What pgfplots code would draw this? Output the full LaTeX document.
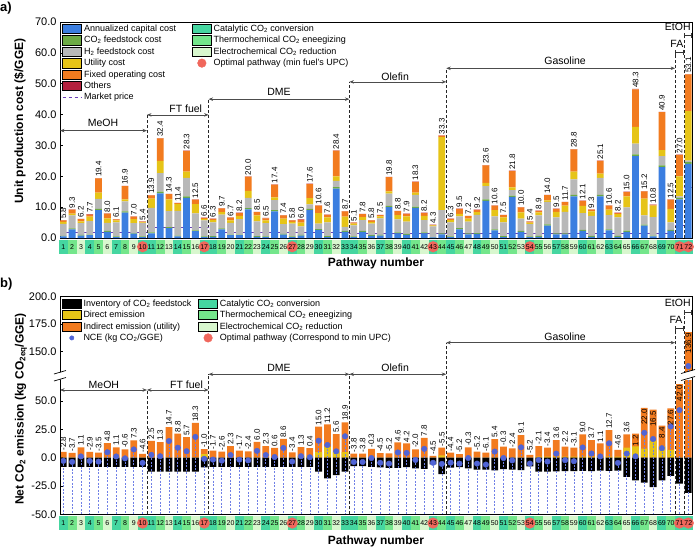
\documentclass[border=0pt]{standalone}
\usepackage{pgfplots}
\pgfplotsset{compat=1.18}
\usepackage{pgfplotstable}
\usepackage{fontspec}
\setmainfont{Liberation Sans}
\usetikzlibrary{arrows.meta}

\definecolor{capblue}{HTML}{3B7EE0}
\definecolor{co2green}{HTML}{6DAA45}
\definecolor{h2gray}{HTML}{B8B8B8}
\definecolor{utilyel}{HTML}{E6C417}
\definecolor{fixorg}{HTML}{F27B1F}
\definecolor{othred}{HTML}{B3203D}
\definecolor{mktpur}{HTML}{6B3FB8}
\definecolor{pwc}{HTML}{45D6A0}
\definecolor{pwt}{HTML}{74E68B}
\definecolor{pwe}{HTML}{D8F7CE}
\definecolor{optred}{HTML}{F0675C}
\definecolor{nceblue}{HTML}{5064D6}
\definecolor{dropblue}{HTML}{7080E6}

\pgfplotsset{
  rectleg/.style={legend image code/.code={\fill[##1] (0pt,-4.6pt) rectangle (19pt,4.6pt);}},
  dotleg/.style={legend image code/.code={\draw[##1] plot coordinates {(9.5pt,0pt)};}},
  lineleg/.style={legend image code/.code={\draw[##1] (0pt,0pt) -- (19pt,0pt);}},
  labelfmt/.style={nodes near coords={\pgfmathprintnumber[fixed,fixed zerofill,precision=1,assume math mode=true]{\pgfplotspointmeta}}},
  ytickfmt/.style={yticklabel style={font=\fontsize{11}{12}\selectfont, /pgf/number format/.cd, fixed, fixed zerofill, precision=1, assume math mode=true}},
}
\tikzset{
  grparr/.style={{Stealth[length=4.5pt,width=3.5pt]}-{Stealth[length=4.5pt,width=3.5pt]}, line width=0.6pt, black!70},
  grpbar/.style={{Bar[width=5pt]}-{Bar[width=5pt]}, line width=1pt, black!80},
  grpdash/.style={dash pattern=on 3pt off 2pt, line width=0.8pt, black!85},
  grplab/.style={font=\fontsize{10.5}{11}\selectfont, inner sep=1pt},
}
\newcommand\pwfont{\fontsize{7}{7.5}\selectfont}
\newcommand\pwrow[1]{%
  \foreach \i/\c/\s in {1/c/1,2/t/1,3/e/1,4/c/1,5/t/1,6/e/1,7/c/1,8/t/1,9/e/1,10/c/0,11/c/1,12/t/1,13/e/1,14/c/1,15/t/1,16/e/1,17/c/0,18/c/1,19/t/1,20/e/1,21/c/1,22/t/1,23/e/1,24/c/1,25/t/1,26/e/1,27/c/0,28/t/1,29/e/1,30/c/1,31/t/1,32/e/1,33/c/1,34/c/1,35/t/1,36/e/1,37/c/1,38/t/1,39/e/1,40/c/1,41/t/1,42/e/1,43/c/0,44/t/1,45/c/1,46/t/1,47/e/1,48/c/1,49/t/1,50/e/1,51/c/1,52/t/1,53/e/1,54/c/0,55/t/1,56/e/1,57/c/1,58/t/1,59/e/1,60/c/1,61/t/1,62/e/1,63/c/1,64/t/1,65/e/1,66/c/1,67/t/1,68/e/1,69/c/1,70/t/1,71/c/0,72/c/0}{%
    \fill[pw\c] ([xshift=-4.45pt,yshift=-2pt]#1\i) rectangle ([xshift=4.45pt,yshift=-15.5pt]#1\i);
    \ifnum\s=1 \node[font=\pwfont, inner sep=0pt] at ([yshift=-8.75pt]#1\i) {\i};\fi}
  \foreach \i in {10,17,27,43,54,71,72}{%
    \fill[optred] ([yshift=-8.75pt]#1\i) circle (5.6pt);
    \node[font=\pwfont, inner sep=0pt] at ([yshift=-8.75pt]#1\i) {\i};}
}

\pgfplotstableread{
x cap co2 h2 util fix oth tot
1 0.5 0.2 3.9 0.6 0.5 0.1 5.8
2 2.8 0.3 4.2 0.6 1.3 0.1 9.3
3 0.8 0.2 3.8 0.6 0.7 0.1 6.2
4 0.9 0.2 4.4 1.4 0.7 0.1 7.7
5 9.0 0.4 3.3 2.0 4.6 0.1 19.4
6 2.0 0.3 2.6 1.5 1.5 0.1 8.0
7 0.3 0.2 4.6 0.6 0.3 0.1 6.1
8 8.2 0.4 3.3 0.6 4.3 0.1 16.9
9 1.4 0.2 3.2 1.3 0.8 0.1 7.0
10 0.3 0.2 4.3 0.3 0.2 0.1 5.4
11 1.5 0.3 8.0 3.0 1.0 0.1 13.9
12 14.5 0.5 6.0 4.0 7.3 0.1 32.4
13 3.2 0.3 5.2 3.8 1.7 0.1 14.3
14 0.5 0.3 8.0 2.3 0.2 0.1 11.4
15 13.0 0.5 6.0 2.0 6.7 0.1 28.3
16 2.2 0.3 5.5 3.0 1.4 0.1 12.5
17 0.3 0.2 5.2 0.5 0.3 0.1 6.6
18 0.4 0.2 4.5 0.7 0.4 0.1 6.3
19 2.8 0.3 4.5 0.8 1.2 0.1 9.7
20 0.9 0.2 3.8 0.8 0.9 0.1 6.7
21 0.9 0.2 5.0 1.1 0.9 0.1 8.2
22 9.3 0.4 3.3 2.3 4.6 0.1 20.0
23 0.4 0.2 4.8 1.9 1.1 0.1 8.5
24 0.3 0.2 4.3 0.9 0.7 0.1 6.5
25 8.6 0.4 3.3 0.9 4.1 0.1 17.4
26 1.1 0.2 3.2 1.8 1.0 0.1 7.4
27 0.3 0.2 4.2 0.5 0.5 0.1 5.8
28 0.8 0.2 2.8 1.2 0.9 0.1 6.0
29 9.0 0.4 1.5 2.0 4.6 0.1 17.6
30 2.6 0.3 1.8 3.4 2.4 0.1 10.6
31 0.3 0.3 4.5 1.6 0.8 0.1 7.6
32 16.0 0.5 2.0 1.5 8.3 0.1 28.4
33 2.0 0.3 1.3 3.3 1.7 0.1 8.7
34 0.3 0.2 3.6 0.6 0.3 0.1 5.1
35 2.0 0.3 3.5 1.0 0.9 0.1 7.8
36 0.7 0.2 3.8 0.5 0.5 0.1 5.8
37 0.8 0.2 5.4 0.6 0.4 0.1 7.5
38 10.0 0.4 4.0 0.7 4.6 0.1 19.8
39 1.5 0.3 4.2 1.4 1.3 0.1 8.8
40 1.0 0.3 4.0 1.7 0.8 0.1 7.9
41 9.8 0.4 3.8 0.7 3.5 0.1 18.3
42 1.5 0.3 4.0 1.4 0.9 0.1 8.2
43 0.2 0.1 3.5 0.3 0.1 0.1 4.3
44 1.2 0.3 7.5 23.7 0.5 0.1 33.3
45 0.3 0.2 4.6 0.7 0.4 0.1 6.3
46 2.8 0.4 3.8 0.8 1.6 0.1 9.5
47 1.2 0.3 3.8 1.0 0.8 0.1 7.2
48 1.3 0.3 5.9 0.9 0.7 0.1 9.2
49 12.0 0.5 4.3 1.1 5.6 0.1 23.6
50 2.5 0.3 4.2 2.0 1.5 0.1 10.6
51 0.3 0.3 4.5 1.6 0.7 0.1 7.5
52 13.3 0.4 1.8 0.9 5.3 0.1 21.8
53 2.0 0.3 4.0 2.0 1.6 0.1 10.0
54 0.3 0.2 4.0 0.5 0.3 0.1 5.4
55 0.4 0.3 6.6 1.0 0.5 0.1 8.9
56 4.0 0.4 7.3 0.5 1.7 0.1 14.0
57 1.2 0.3 5.2 1.8 0.9 0.1 9.5
58 1.2 0.3 7.0 2.0 1.1 0.1 11.7
59 13.5 0.5 5.0 2.5 7.2 0.1 28.8
60 2.3 0.3 5.5 2.3 1.6 0.1 12.1
61 0.4 0.3 6.5 1.4 0.6 0.1 9.3
62 13.5 0.5 5.5 1.4 4.1 0.1 25.1
63 2.5 0.3 4.6 1.8 1.3 0.1 10.6
64 0.4 0.3 6.0 1.0 0.4 0.1 8.2
65 2.0 0.4 7.5 3.6 1.4 0.1 15.0
66 26.5 0.6 3.5 5.4 12.2 0.1 48.3
67 4.0 0.3 3.0 5.5 2.3 0.1 15.2
68 0.5 0.3 6.0 3.7 0.2 0.1 10.8
69 23.0 0.5 3.0 2.0 12.3 0.1 40.9
70 2.3 0.3 2.5 4.3 3.0 0.1 12.5
71 12.5 0.5 0.5 6.5 6.9 0.1 27.0
72 24.0 0.6 0.5 16.0 11.9 0.1 53.1
}\tabA

\pgfplotstableread{
x inv dir ind nce
1 -8.0 0 5.2 -2.8
2 -8.0 0 4.3 -3.7
3 -8.0 0 9.1 1.1
4 -8.0 0 5.1 -2.9
5 -8.0 0 4.5 -3.5
6 -8.0 0 12.8 4.8
7 -8.0 0 9.1 1.1
8 -8.0 0 7.4 -0.6
9 -8.0 0 15.3 7.3
10 -8.0 0 3.4 -4.6
11 -12.4 0 14.9 2.5
12 -12.4 0 13.7 1.3
13 -12.4 0 27.1 14.7
14 -12.4 0 21.2 8.8
15 -12.4 0 18.1 5.7
16 -12.4 0 30.7 18.3
17 -8.6 3.2 4.4 -1.0
18 -8.0 0 6.3 -1.7
19 -8.0 0 5.4 -2.6
20 -8.0 0 10.3 2.3
21 -8.0 0 6.3 -1.7
22 -8.0 0 5.6 -2.4
23 -8.0 0 14.0 6.0
24 -8.0 0 10.3 2.3
25 -8.0 0 8.6 0.6
26 -8.0 0 16.6 8.6
27 -8.0 0 4.6 -3.4
28 -8.0 1.5 7.8 1.3
29 -8.0 1.5 6.9 0.4
30 -12.4 5.0 22.4 15.0
31 -18.2 9.5 19.9 11.2
32 -15.3 5.0 15.9 5.6
33 -12.4 5.0 26.3 18.9
34 -7.5 0 3.7 -3.8
35 -7.5 0 3.7 -3.8
36 -8.0 0 7.7 -0.3
37 -8.5 0 4.0 -4.5
38 -9.0 0 3.8 -5.2
39 -8.9 0 13.5 4.6
40 -8.4 0 12.6 4.2
41 -9.4 0 7.4 -2.0
42 -9.8 0 17.6 7.8
43 -6.0 0 1.5 -4.5
44 -14.5 2.0 7.0 -5.5
45 -8.8 0 4.4 -4.4
46 -8.4 0 3.2 -5.2
47 -9.4 0 9.1 -0.3
48 -10.5 0 5.3 -5.2
49 -10.5 0 4.4 -6.1
50 -11.1 0 16.5 5.4
51 -10.0 0 9.7 -0.3
52 -10.6 0 8.2 -2.4
53 -10.9 0 20.0 9.1
54 -7.6 0 2.4 -5.2
55 -12.4 1.0 9.3 -2.1
56 -12.2 1.0 7.8 -3.4
57 -12.0 1.0 14.6 3.6
58 -11.9 1.0 8.7 -2.2
59 -11.9 1.0 7.8 -3.1
60 -11.6 1.0 19.6 9.0
61 -11.9 1.0 14.6 3.7
62 -11.5 1.0 11.6 1.1
63 -11.7 1.0 23.4 12.7
64 -11.4 1.0 5.8 -4.6
65 -17.0 9.0 11.6 3.6
66 -20.0 10.0 11.2 1.2
67 -22.0 8.0 36.0 22.0
68 -26.0 15.0 27.5 16.5
69 -20.0 10.0 18.4 8.4
70 -16.0 7.0 36.6 27.6
71 -23.0 0 65.0 42.0
72 -31.0 0 167.9 136.9
}\tabB

\begin{document}
\begin{tikzpicture}
\path[use as bounding box] (0pt,0pt) rectangle (700pt,-551pt);

% ================= panel a =================
\begin{axis}[
  name=ta, at={(60pt,-238pt)}, anchor=south west, scale only axis,
  width=632pt, height=216pt,
  xmin=0.62, xmax=72.42, ymin=0, ymax=70,
  ybar stacked, bar width=6.8pt,
  xtick=\empty,
  ytick={0,10,...,70}, ytick pos=left, ytickfmt,
  major tick length=2.5pt, tick style={black, line width=0.5pt},
  axis line style={line width=0.8pt},
  clip mode=individual,
]
\addplot[fill=capblue, draw=none] table[x=x,y=cap]{\tabA};
\addplot[fill=co2green, draw=none] table[x=x,y=co2]{\tabA};
\addplot[fill=h2gray, draw=none] table[x=x,y=h2]{\tabA};
\addplot[fill=utilyel, draw=none] table[x=x,y=util]{\tabA};
\addplot[fill=fixorg, draw=none] table[x=x,y=fix]{\tabA};
\addplot[fill=othred, draw=none, labelfmt, point meta=explicit,
  every node near coord/.append style={rotate=90, anchor=west, font=\fontsize{8}{8}\selectfont, inner sep=1.2pt, text=black}]
  table[x=x, y=oth, meta=tot]{\tabA};
\addplot[stack plots=false, sharp plot, mktpur, line width=1pt] coordinates {(0.62,1.9) (10.5,1.9)};
\addplot[stack plots=false, sharp plot, mktpur, line width=1pt] coordinates {(10.5,3.3) (17.5,3.3)};
\addplot[stack plots=false, sharp plot, mktpur, line width=1pt] coordinates {(17.5,1.8) (33.5,1.8)};
\addplot[stack plots=false, sharp plot, mktpur, line width=1pt] coordinates {(33.5,1.5) (44.5,1.5)};
\addplot[stack plots=false, sharp plot, mktpur, line width=1pt] coordinates {(44.5,1.5) (70.5,1.5)};
\addplot[stack plots=false, sharp plot, mktpur, line width=1pt] coordinates {(70.5,4.0) (71.5,4.0)};
\addplot[stack plots=false, sharp plot, mktpur, line width=1pt] coordinates {(71.5,16.5) (72.42,16.5)};
% group annotations
\draw[grpdash] (axis cs:10.5,0) -- (axis cs:10.5,39.9);
\draw[grpdash] (axis cs:17.5,0) -- (axis cs:17.5,45);
\draw[grpdash] (axis cs:33.5,0) -- (axis cs:33.5,50.6);
\draw[grpdash] (axis cs:44.5,0) -- (axis cs:44.5,55);
\draw[grpdash] (axis cs:70.5,0) -- (axis cs:70.5,60.2);
\draw[grpdash] (axis cs:71.5,0) -- (axis cs:71.5,65.6);
\draw[grparr] (axis cs:0.62,34.8) -- (axis cs:10.5,34.8);
\draw[grparr] (axis cs:10.5,39.9) -- (axis cs:17.5,39.9);
\draw[grparr] (axis cs:17.5,45) -- (axis cs:33.5,45);
\draw[grparr] (axis cs:33.5,50.6) -- (axis cs:44.5,50.6);
\draw[grparr] (axis cs:44.5,55) -- (axis cs:70.5,55);
\draw[grpbar] (axis cs:70.5,60.2) -- (axis cs:71.5,60.2);
\draw[grpbar] (axis cs:71.5,65.6) -- (axis cs:72.42,65.6);
\node[grplab] at (axis cs:5.5,37.2) {MeOH};
\node[grplab] at (axis cs:14.9,41.9) {FT fuel};
\node[grplab] at (axis cs:25.5,47.2) {DME};
\node[grplab] at (axis cs:38.7,52.2) {Olefin};
\node[grplab] at (axis cs:58,57.3) {Gasoline};
\node[grplab] at (axis cs:70.7,63) {FA};
\node[grplab] at (axis cs:70.8,68.3) {EtOH};
\pgfplotsinvokeforeach{1,...,72}{\coordinate (pa#1) at (axis cs:#1,0);}
\end{axis}

% legend a
\begin{axis}[
  at={(60pt,-238pt)}, anchor=south west, scale only axis, width=632pt, height=216pt,
  hide axis, xmin=0, xmax=1, ymin=0, ymax=1,
  legend columns=2, legend cell align=left,
  legend style={at={(0.003,0.997)}, anchor=north west, draw=none, fill=none, inner sep=0pt,
    font=\fontsize{9}{10.8}\selectfont, row sep=-0.6pt,
    /tikz/every even column/.append style={column sep=14pt}},
]
\addlegendimage{rectleg, fill=capblue}\addlegendentry{Annualized capital cost}
\addlegendimage{rectleg, fill=pwc}\addlegendentry{Catalytic CO\textsubscript{2} conversion}
\addlegendimage{rectleg, fill=co2green}\addlegendentry{CO\textsubscript{2} feedstock cost}
\addlegendimage{rectleg, fill=pwt}\addlegendentry{Thermochemical CO\textsubscript{2} eneegizing}
\addlegendimage{rectleg, fill=h2gray}\addlegendentry{H\textsubscript{2} feedstock cost}
\addlegendimage{rectleg, fill=pwe}\addlegendentry{Electrochemical CO\textsubscript{2} reduction}
\addlegendimage{rectleg, fill=utilyel}\addlegendentry{Utility cost}
\addlegendimage{dotleg, only marks, mark=*, mark size=4.3pt, optred}\addlegendentry{Optimal pathway (min fuel's UPC)}
\addlegendimage{rectleg, fill=fixorg}\addlegendentry{Fixed operating cost}
\addlegendimage{empty legend}\addlegendentry{}
\addlegendimage{rectleg, fill=othred}\addlegendentry{Others}
\addlegendimage{empty legend}\addlegendentry{}
\addlegendimage{lineleg, sharp plot, mktpur, dashed, line width=1pt}\addlegendentry{Market price}
\end{axis}

% ================= panel b (lower part) =================
\begin{axis}[
  name=bl, at={(60pt,-514.3pt)}, anchor=south west, scale only axis,
  width=632pt, height=133.6pt,
  xmin=0.62, xmax=72.42, ymin=-50, ymax=68,
  xtick=\empty,
  ytick={-50,-25,0,25,50}, ytick pos=left, ytickfmt,
  major tick length=2.5pt, tick style={black, line width=0.5pt},
  axis line style={draw=none},
  clip mode=individual,
]
\addplot[ybar, bar width=6.8pt, bar shift=0pt, fill=fixorg, draw=none] table[x=x, y expr=\thisrow{dir}+\thisrow{ind}]{\tabB};
\addplot[ybar, bar width=6.8pt, bar shift=0pt, fill=utilyel, draw=none] table[x=x, y=dir]{\tabB};
\addplot[ybar, bar width=6.8pt, bar shift=0pt, fill=black, draw=none] table[x=x, y=inv]{\tabB};
\addplot[only marks, mark=*, mark size=2.8pt, nceblue,
  error bars/.cd, y dir=minus, y explicit, error mark=none,
  error bar style={dropblue, dash pattern=on 2pt off 1.5pt, line width=0.6pt}]
  table[x=x, y=nce, y error minus expr=\thisrow{nce}+50]{\tabB};
\addplot[draw=none, mark=none, labelfmt, point meta=explicit, restrict x to domain=0:65.5,
  every node near coord/.append style={rotate=90, anchor=west, font=\fontsize{8}{8}\selectfont, inner sep=1.2pt, text=black}]
  table[x=x, y expr=\thisrow{dir}+\thisrow{ind}, meta=nce]{\tabB};
\addplot[draw=none, mark=none, labelfmt, point meta=explicit, restrict x to domain=65.5:71.5,
  every node near coord/.append style={rotate=90, anchor=east, font=\fontsize{8}{8}\selectfont, inner sep=1.2pt, text=black}]
  table[x=x, y expr=\thisrow{dir}+\thisrow{ind}, meta=nce]{\tabB};
% group annotations
\draw[grpdash] (axis cs:10.5,-50) -- (axis cs:10.5,59.8);
\draw[grpdash] (axis cs:17.5,-50) -- (axis cs:17.5,73.7);
\draw[grpdash] (axis cs:33.5,-50) -- (axis cs:33.5,73.7);
\draw[grpdash] (axis cs:44.5,-50) -- (axis cs:44.5,101.6);
\draw[grpdash] (axis cs:70.5,-50) -- (axis cs:70.5,114.3);
\draw[grpdash] (axis cs:71.5,-50) -- (axis cs:71.5,128.4);
\draw[grparr] (axis cs:0.62,59.8) -- (axis cs:10.5,59.8);
\draw[grparr] (axis cs:10.5,59.8) -- (axis cs:17.5,59.8);
\draw[grparr] (axis cs:17.5,73.7) -- (axis cs:33.5,73.7);
\draw[grparr] (axis cs:33.5,73.7) -- (axis cs:44.5,73.7);
\draw[grparr] (axis cs:44.5,101.6) -- (axis cs:70.5,101.6);
\draw[grpbar] (axis cs:70.5,114.3) -- (axis cs:71.5,114.3);
\draw[grpbar] (axis cs:71.5,128.4) -- (axis cs:72.42,128.4);
\node[grplab] at (axis cs:5.6,64.2) {MeOH};
\node[grplab] at (axis cs:15,64.2) {FT fuel};
\node[grplab] at (axis cs:25.5,79.2) {DME};
\node[grplab] at (axis cs:38.7,79.2) {Olefin};
\node[grplab] at (axis cs:58,106.6) {Gasoline};
\node[grplab] at (axis cs:70.6,121.6) {FA};
\node[grplab] at (axis cs:70.8,136.4) {EtOH};
\pgfplotsinvokeforeach{1,...,72}{\coordinate (pb#1) at (axis cs:#1,-50);}
\end{axis}

% ================= panel b (upper part) =================
\begin{axis}[
  name=bu, at={(60pt,-371.5pt)}, anchor=south west, scale only axis,
  width=632pt, height=74.8pt,
  xmin=0.62, xmax=72.42, ymin=132, ymax=200,
  xtick=\empty, ytick={150,175,200}, ytick pos=left, ytickfmt,
  major tick length=2.5pt, tick style={black, line width=0.5pt},
  axis line style={draw=none},
  clip mode=individual,
  legend columns=2, legend cell align=left,
  legend style={at={(0.003,0.99)}, anchor=north west, draw=none, fill=none, inner sep=0pt,
    font=\fontsize{9}{10.8}\selectfont, row sep=-0.6pt,
    /tikz/every even column/.append style={column sep=5pt}},
]
\addplot[ybar, bar width=6.8pt, bar shift=0pt, fill=fixorg, draw=none, forget plot] coordinates {(72,167.9)};
\addplot[only marks, mark=*, mark size=2.8pt, nceblue, forget plot,
  error bars/.cd, y dir=minus, y explicit, error mark=none,
  error bar style={dropblue, dash pattern=on 2pt off 1.5pt, line width=0.6pt}]
  coordinates {(72,136.9) +- (0,20)};
\addplot[draw=none, mark=none, forget plot, labelfmt, point meta=explicit,
  every node near coord/.append style={rotate=90, anchor=east, font=\fontsize{8}{8}\selectfont, inner sep=1.2pt, text=black}]
  coordinates {(72,167.9) [136.9]};
\addlegendimage{rectleg, fill=black}\addlegendentry{Inventory of CO\textsubscript{2} feedstock}
\addlegendimage{rectleg, fill=pwc}\addlegendentry{Catalytic CO\textsubscript{2} conversion}
\addlegendimage{rectleg, fill=utilyel}\addlegendentry{Direct emission}
\addlegendimage{rectleg, fill=pwt}\addlegendentry{Thermochemical CO\textsubscript{2} eneegizing}
\addlegendimage{rectleg, fill=fixorg}\addlegendentry{Indirect emission (utility)}
\addlegendimage{rectleg, fill=pwe}\addlegendentry{Electrochemical CO\textsubscript{2} reduction}
\addlegendimage{dotleg, only marks, mark=*, mark size=2.2pt, nceblue}\addlegendentry{NCE (kg CO\textsubscript{2}/GGE)}
\addlegendimage{dotleg, only marks, mark=*, mark size=4.3pt, optred}\addlegendentry{Optimal pathway (Correspond to min UPC)}
\end{axis}

% frame of panel b
\draw[line width=0.8pt] (60pt,-514.3pt) rectangle (692pt,-296.7pt);
% break marks
\fill[white] (55pt,-374pt) -- (65pt,-371pt) -- (65pt,-378pt) -- (55pt,-381pt) -- cycle;
\draw[line width=0.7pt] (54pt,-374pt) -- (66pt,-370.5pt);
\draw[line width=0.7pt] (54pt,-381pt) -- (66pt,-377.5pt);
\fill[white] (682pt,-373.5pt) -- (694pt,-370pt) -- (694pt,-377pt) -- (682pt,-380.5pt) -- cycle;
\draw[line width=0.7pt] (681pt,-373.5pt) -- (695pt,-369.5pt);
\draw[line width=0.7pt] (681pt,-380.5pt) -- (695pt,-376.5pt);

% pathway number rows
\pwrow{pa}
\pwrow{pb}

% labels
\node[font=\bfseries\fontsize{13}{13}\selectfont, anchor=north west, inner sep=0pt] at (0pt,-2pt) {a)};
\node[font=\bfseries\fontsize{13}{13}\selectfont, anchor=north west, inner sep=0pt] at (0pt,-278pt) {b)};
\node[font=\bfseries\fontsize{12}{13}\selectfont, rotate=90] at (20pt,-121pt) {Unit production cost (\$/GGE)};
\node[font=\bfseries\fontsize{12}{13}\selectfont, rotate=90] at (21pt,-409pt) {Net CO\textsubscript{2} emission (kg CO\textsubscript{2eq}/GGE)};
\node[font=\bfseries\fontsize{12}{13}\selectfont] at (376pt,-263pt) {Pathway number};
\node[font=\bfseries\fontsize{12}{13}\selectfont] at (376pt,-541pt) {Pathway number};
\end{tikzpicture}
\end{document}
